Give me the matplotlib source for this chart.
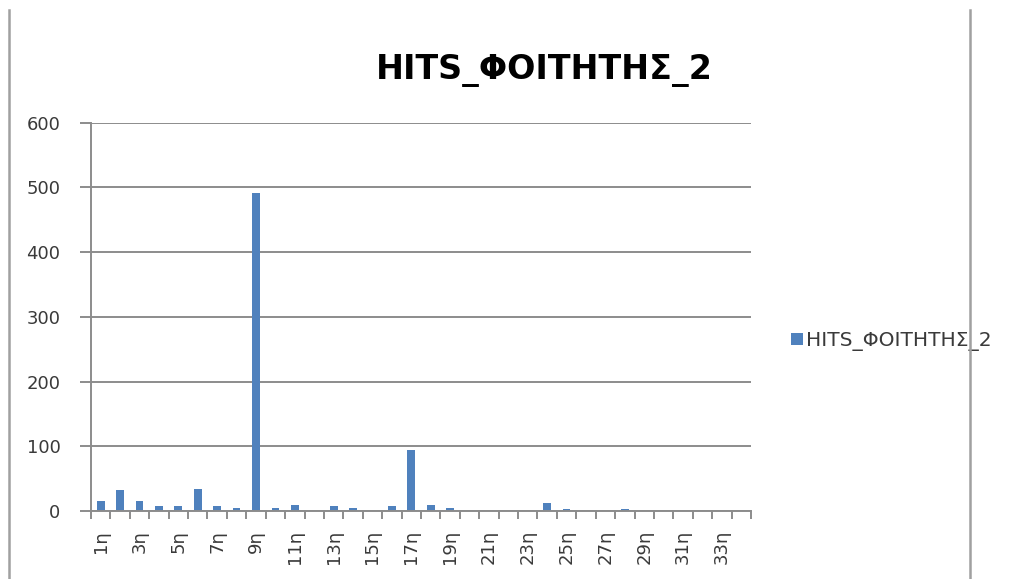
import matplotlib
matplotlib.use("Agg")
import matplotlib.pyplot as plt
from matplotlib.lines import Line2D
from matplotlib.patches import Patch
from matplotlib.transforms import blended_transform_factory, offset_copy
import numpy as np

categories = [f"{i}η" for i in range(1, 35)]
values = [16, 32, 16, 7, 7, 34, 7, 4, 492, 4, 10, 0, 7, 4, 0, 7, 94, 10, 4,
          0, 0, 0, 0, 13, 3, 0, 0, 3, 0, 0, 0, 0, 0, 0]
series_name = "HITS_ΦΟΙΤΗΤΗΣ_2"
title = "HITS_ΦΟΙΤΗΤΗΣ_2"
yticks = [0, 100, 200, 300, 400, 500, 600]

bar_color = "#4F81BD"
grid_color = "#8C8C8C"
text_color = "#3A3A3A"

W, H = 1011, 579
fig = plt.figure(figsize=(W / 100, H / 100), dpi=100)
fig.patch.set_facecolor("white")

ax = fig.add_axes([91 / W, 1 - 511 / H, (751 - 91) / W, (511 - 122.7) / H])
x = np.arange(len(categories))
ax.bar(x, values, width=0.4, color=bar_color, zorder=3)

ax.set_xlim(-0.5, len(categories) - 0.5)
ax.set_ylim(0, 600)
ax.set_yticks(yticks)
ax.set_yticklabels([str(v) for v in yticks])
ax.yaxis.grid(True, color=grid_color, linewidth=1.4, zorder=0)
ax.set_axisbelow(True)

ax.set_xticks(np.arange(len(categories) + 1) - 0.5)
ax.set_xticklabels([])
ax.tick_params(axis="x", which="major", length=6, width=1.4, color=grid_color,
               direction="out")
ax.tick_params(axis="y", which="major", length=8, width=1.4, color=grid_color,
               pad=14, labelsize=13, labelcolor=text_color)

trans = offset_copy(blended_transform_factory(ax.transData, ax.transAxes),
                    fig=fig, x=0, y=-19, units="dots")
for i in x[::2]:
    ax.text(i, 0, categories[i], transform=trans, rotation=90,
            rotation_mode="anchor", ha="right", va="center",
            fontsize=13, color=text_color, clip_on=False)

for s in ["top", "right"]:
    ax.spines[s].set_visible(False)
for s in ["left", "bottom"]:
    ax.spines[s].set_color(grid_color)
    ax.spines[s].set_linewidth(1.4)
ax.spines["bottom"].set_zorder(4)

fig.text(544 / W, 1 - 70 / H, title, ha="center", va="center",
         fontsize=24, fontweight="bold", color="black")

handle = Patch(facecolor=bar_color, edgecolor="none")
fig.legend([handle], [series_name], loc="center left",
           bbox_to_anchor=(791 / W, 1 - 341 / H), frameon=False,
           fontsize=14.5, handlelength=0.6, handleheight=0.6,
           handletextpad=0.15, borderpad=0, borderaxespad=0,
           labelcolor=text_color)

# screenshot frame lines
fig.add_artist(Line2D([9 / W, 9 / W], [0, 1 - 10 / H], transform=fig.transFigure,
                      color="#A0A0A0", linewidth=1.8))
fig.add_artist(Line2D([970 / W, 970 / W], [0, 1 - 10 / H], transform=fig.transFigure,
                      color="#A0A0A0", linewidth=1.8, zorder=10))

fig.savefig("out.png", dpi=100)
